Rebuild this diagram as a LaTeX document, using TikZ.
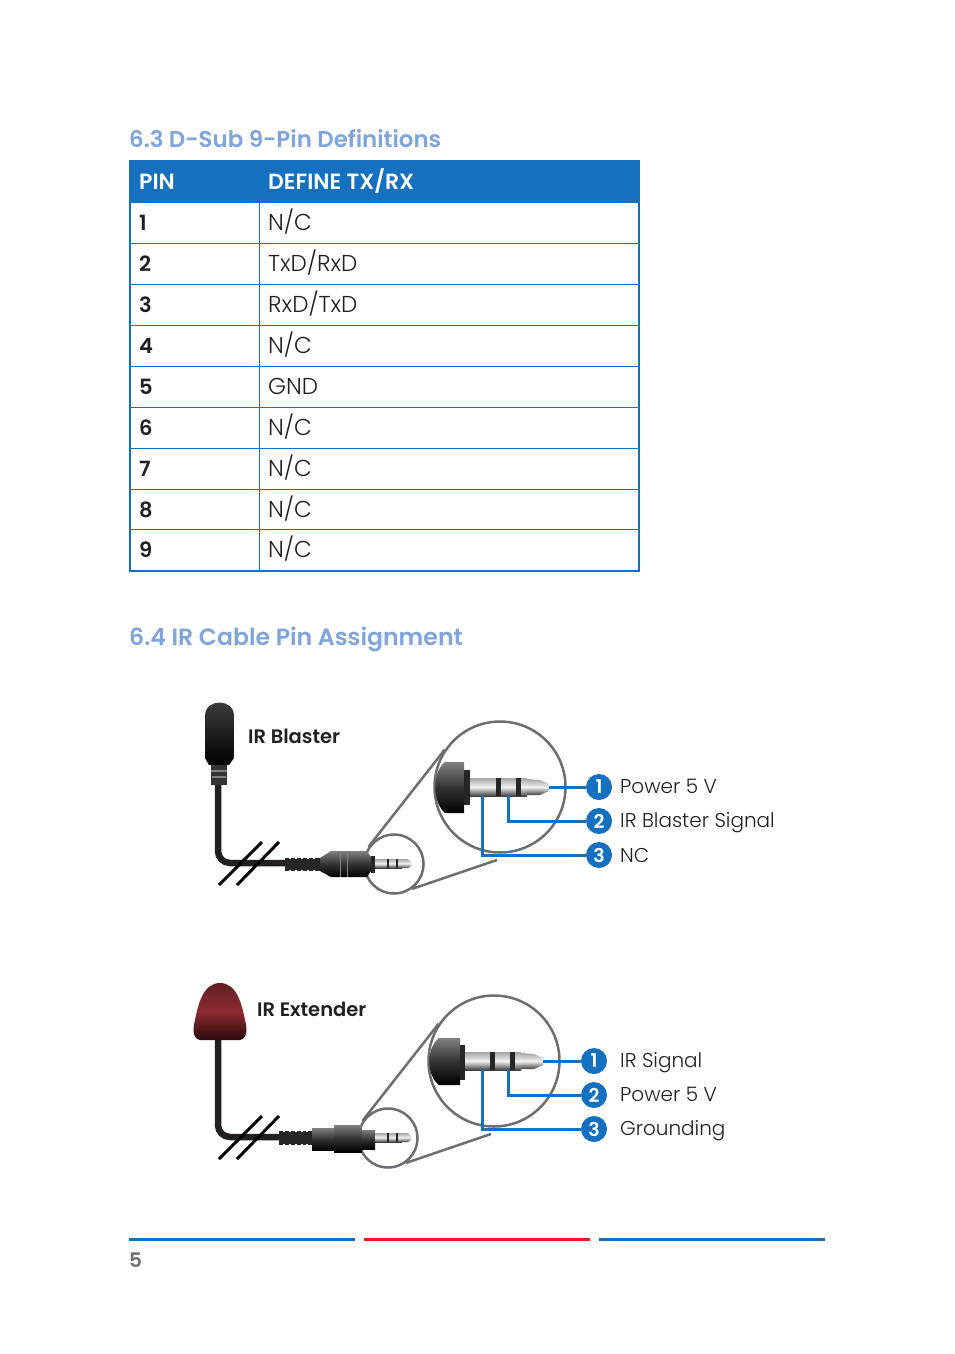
\documentclass[tikz,border=0pt]{standalone}
\usepackage{fontspec}
\setmainfont{Poppins Light}[BoldFont=Poppins SemiBold]
\usepackage{tikz}
\definecolor{headblue}{HTML}{1570C0}
\definecolor{titleblue}{HTML}{7FA5DC}
\definecolor{inkgray}{HTML}{231F20}
\definecolor{lensgray}{HTML}{6D6E71}
\definecolor{pagered}{HTML}{ED1C24}
\definecolor{domered}{HTML}{8E2B30}
\definecolor{domedark}{HTML}{2A0A0C}
\begin{document}
\begin{tikzpicture}[x=1pt,y=-1pt]
	\tikzstyle{sectitle}=[anchor=base west,inner sep=0pt,text=titleblue,font=\bfseries\fontsize{23.6}{23.6}\selectfont]
	\tikzstyle{headcell}=[anchor=base west,inner sep=0pt,text=white,font=\bfseries\fontsize{22}{22}\selectfont]
	\tikzstyle{pincell}=[anchor=base west,inner sep=0pt,text=inkgray,font=\bfseries\fontsize{21}{21}\selectfont]
	\tikzstyle{defcell}=[anchor=base west,inner sep=0pt,text=inkgray,font=\fontsize{23}{23}\selectfont]
	\tikzstyle{tablerule}=[draw=headblue,line width=1pt]
	\tikzstyle{pinlabel}=[anchor=base west,inner sep=0pt,text=inkgray,font=\fontsize{20}{20}\selectfont]
	\tikzstyle{devname}=[anchor=base west,inner sep=0pt,text=inkgray,font=\bfseries\fontsize{19.5}{19.5}\selectfont]
	\tikzstyle{badge}=[circle,fill=headblue,text=white,inner sep=0pt,minimum size=26pt,font=\bfseries\fontsize{19}{19}\selectfont]
	\tikzstyle{lens}=[circle,draw=lensgray,line width=2.5pt,inner sep=0pt,minimum size=131pt]
	\tikzstyle{loupe}=[circle,draw=lensgray,line width=2.5pt,inner sep=0pt,minimum size=59pt]
	\tikzstyle{leader}=[draw=lensgray,line width=2.5pt]
	\tikzstyle{wire}=[draw=headblue,line width=3pt]
	\tikzstyle{cable}=[draw=inkgray,line width=6.5pt,rounded corners=12pt]
	\tikzstyle{slash}=[draw=black,line width=3pt]
	\tikzstyle{steel}=[top color=gray!70,bottom color=black!75,middle color=white!90!gray]
	\tikzstyle{rubber}=[top color=black!50,bottom color=black,middle color=black!80]
	\tikzstyle{sensor}=[top color=black!75,bottom color=black]
	\tikzstyle{band}=[fill=black!85]
	\useasboundingbox (0,0) rectangle (954,1354);
	\fill[white] (0,0) rectangle (954,1354);
	% table
	\node[sectitle,font=\bfseries\fontsize{22.9}{22.9}\selectfont] (title63) at (129,147) {6.3 D-Sub 9-Pin Definitions};
	\fill[headblue] (129,160) rectangle (640,203);
	\draw[tablerule] (130,243.5) -- (639,243.5);
	\draw[tablerule] (130,284.5) -- (639,284.5);
	\draw[tablerule] (130,325.5) -- (639,325.5);
	\draw[tablerule] (130,366.5) -- (639,366.5);
	\draw[tablerule] (130,407.5) -- (639,407.5);
	\draw[tablerule] (130,448.5) -- (639,448.5);
	\draw[tablerule] (130,489.5) -- (639,489.5);
	\draw[tablerule] (130,529.5) -- (639,529.5);
	\draw[tablerule] (259.5,203) -- (259.5,571);
	\draw[headblue,line width=2pt] (130,203) -- (130,571) -- (639,571) -- (639,203);
	\node[headcell] (pinhead) at (139,189) {PIN};
	\node[headcell] (defhead) at (268,189) {DEFINE TX/RX};
	\node[pincell] (pin1) at (139,230) {1};
	\node[pincell] (pin2) at (139,271) {2};
	\node[pincell] (pin3) at (139,312) {3};
	\node[pincell] (pin4) at (139,353) {4};
	\node[pincell] (pin5) at (139,394) {5};
	\node[pincell] (pin6) at (139,435) {6};
	\node[pincell] (pin7) at (139,476) {7};
	\node[pincell] (pin8) at (139,517) {8};
	\node[pincell] (pin9) at (139,557) {9};
	\node[defcell] (def1) at (268,230) {N/C};
	\node[defcell] (def2) at (268,271) {TxD/RxD};
	\node[defcell] (def3) at (268,312) {RxD/TxD};
	\node[defcell] (def4) at (268,353) {N/C};
	\node[defcell] (def5) at (268,394) {GND};
	\node[defcell] (def6) at (268,435) {N/C};
	\node[defcell] (def7) at (268,476) {N/C};
	\node[defcell] (def8) at (268,517) {N/C};
	\node[defcell] (def9) at (268,557) {N/C};
	\node[sectitle] (title64) at (129,645) {6.4 IR Cable Pin Assignment};
	% blaster
	\node[devname] (blaster) at (248,743) {IR Blaster};
	\node[lens] (lensb) at (500,787) {};
	\node[loupe] (loupeb) at (394,864) {};
	\coordinate (leadb) at (497,860);
	\draw[leader] (loupeb.146) -- (lensb.146);
	\draw[leader] (loupeb.-54) -- (leadb);
	\draw[cable] (218,780) -- (218,863) -- (292,863);
	\path[sensor] (205,758) -- (205,716) .. controls (205,698) and (234,698) .. (234,716) -- (234,758) -- (229,765) -- (209,765) -- cycle;
	\fill[black!80] (211,765) rectangle (227,785);
	\draw[gray,line width=1.5pt] (211,771) -- (227,771);
	\draw[gray,line width=1.5pt] (212,777) -- (226,777);
	\draw[slash] (219,885) -- (262,842);
	\draw[slash] (237,885) -- (279,842);
	\fill[black!85] (285,858) rectangle (322,871);
	\foreach \rib in {289,295,301,307,313} \fill[white] (\rib,856) rectangle (\rib+2,859);
	\foreach \rib in {289,295,301,307,313} \fill[white] (\rib,870) rectangle (\rib+2,873);
	\path[rubber] (320,858) -- (331,851) -- (367,851) -- (371,857) -- (371,871) -- (367,877) -- (331,877) -- (320,871) -- cycle;
	\draw[gray,line width=1pt] (340,851) -- (340,877);
	\draw[gray,line width=1pt] (347,851) -- (347,877);
	\fill[band] (371,856) rectangle (375,873);
	\path[steel] (375,859) rectangle (402,868);
	\fill[band] (387,859) rectangle (389,868);
	\fill[band] (396,859) rectangle (398,868);
	\path[steel] (402,859) -- (408,859) -- (411,862) -- (411,866) -- (408,868) -- (402,868) -- cycle;
	\path[rubber] (464,762) -- (445,762) .. controls (432,772) and (432,802) .. (445,813) -- (464,813) -- cycle;
	\fill[black!85] (464,770) rectangle (470,805);
	\path[steel] (470,778) rectangle (527,796);
	\fill[band] (496,778) rectangle (501,796);
	\fill[band] (516,778) rectangle (521,796);
	\path[steel] (527,779) -- (540,780) -- (549,784) -- (549,791) -- (540,795) -- (527,795) -- cycle;
	\coordinate (tipb1) at (549,787);
	\coordinate (tipb2) at (508,796);
	\coordinate (tipb3) at (482,796);
	\node[badge] (numb1) at (599,787) {1};
	\node[badge] (numb2) at (599,821) {2};
	\node[badge] (numb3) at (599,855) {3};
	\draw[wire] (tipb1) -- (numb1);
	\draw[wire] (tipb2) |- (numb2);
	\draw[wire] (tipb3) |- (numb3);
	\node[pinlabel] (labb1) at (620,793) {Power 5 V};
	\node[pinlabel] (labb2) at (620,827) {IR Blaster Signal};
	\node[pinlabel] (labb3) at (620,862) {NC};
	% extender
	\node[devname] (extender) at (257,1016) {IR Extender};
	\node[lens] (lense) at (494,1061) {};
	\node[loupe] (loupee) at (388,1138) {};
	\coordinate (leade) at (491,1134);
	\draw[leader] (loupee.146) -- (lense.146);
	\draw[leader] (loupee.-54) -- (leade);
	\draw[cable] (218,1036) -- (218,1137) -- (284,1137);
	\path[top color=domered!70!black,bottom color=domedark,middle color=domered] (200,1040) .. controls (192,1038) and (193,1028) .. (195,1020) .. controls (198,1005) and (203,983) .. (220,983) .. controls (237,983) and (242,1005) .. (245,1020) .. controls (247,1028) and (248,1038) .. (240,1040) -- cycle;
	\draw[slash] (219,1159) -- (262,1116);
	\draw[slash] (237,1159) -- (279,1116);
	\fill[black!85] (279,1131) rectangle (312,1145);
	\foreach \rib in {283,289,295,301,306} \fill[white] (\rib,1129) rectangle (\rib+2,1132);
	\foreach \rib in {283,289,295,301,306} \fill[white] (\rib,1144) rectangle (\rib+2,1147);
	\path[rubber] (312,1128) rectangle (334,1150);
	\path[rubber] (334,1125) rectangle (362,1152);
	\path[rubber] (362,1130) rectangle (375,1149);
	\path[steel] (375,1133) rectangle (402,1142);
	\fill[band] (387,1133) rectangle (389,1142);
	\fill[band] (396,1133) rectangle (398,1142);
	\path[steel] (402,1133) -- (408,1133) -- (411,1136) -- (411,1140) -- (408,1142) -- (402,1142) -- cycle;
	\path[rubber] (460,1038) -- (439,1038) .. controls (426,1048) and (426,1075) .. (439,1085) -- (460,1085) -- cycle;
	\fill[black!85] (460,1045) rectangle (465,1080);
	\path[steel] (465,1052) rectangle (521,1070);
	\fill[band] (490,1052) rectangle (495,1070);
	\fill[band] (510,1052) rectangle (515,1070);
	\path[steel] (521,1053) -- (534,1054) -- (543,1058) -- (543,1065) -- (534,1069) -- (521,1069) -- cycle;
	\coordinate (tipe1) at (543,1061);
	\coordinate (tipe2) at (508,1070);
	\coordinate (tipe3) at (482,1070);
	\node[badge] (nume1) at (594,1061) {1};
	\node[badge] (nume2) at (594,1095) {2};
	\node[badge] (nume3) at (594,1129) {3};
	\draw[wire] (tipe1) -- (nume1);
	\draw[wire] (tipe2) |- (nume2);
	\draw[wire] (tipe3) |- (nume3);
	\node[pinlabel] (labe1) at (620,1067) {IR Signal};
	\node[pinlabel] (labe2) at (620,1101) {Power 5 V};
	\node[pinlabel] (labe3) at (620,1135) {Grounding};
	% footer
	\fill[headblue] (129,1238) rectangle (355,1241);
	\fill[pagered] (364,1238) rectangle (590,1241);
	\fill[headblue] (599,1238) rectangle (825,1241);
	\node[anchor=base west,inner sep=0pt,text=lensgray,font=\bfseries\fontsize{20}{20}\selectfont] (page) at (129,1267) {5};
\end{tikzpicture}
\end{document}
